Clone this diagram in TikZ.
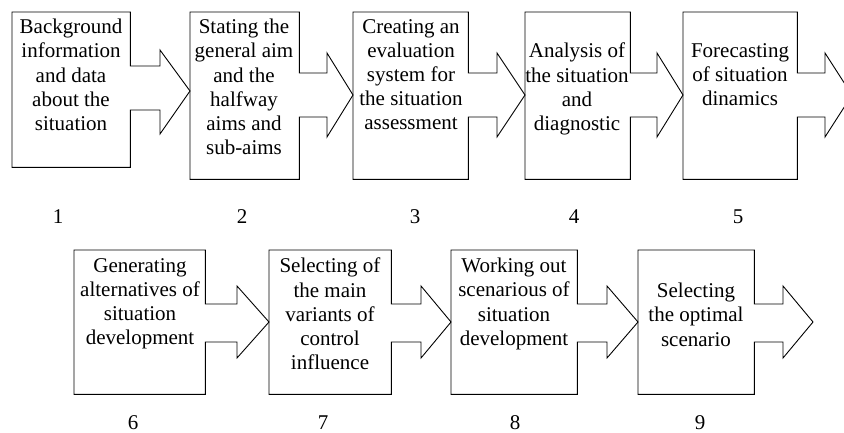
\documentclass[tikz,border=0pt]{standalone}
\usepackage{fontspec}
\setmainfont{Liberation Serif}
\tikzset{
  outline/.style={draw=black, line width=0.9pt, line join=miter},
  boxarea/.style={rectangle, draw=none, inner sep=0pt, anchor=north west},
  boxtext/.style={anchor=north, inner sep=0pt, align=center,
    font=\fontsize{21}{24.2}\selectfont, execute at begin node=\strut},
  numlabel/.style={anchor=base, inner sep=0pt, font=\fontsize{21}{24.2}\selectfont},
}
\begin{document}
\begin{tikzpicture}[x=1pt, y=-1pt]
\useasboundingbox (0,0) rectangle (844,433);
\clip (0,0) rectangle (844,433);
% box areas
\node[boxarea, minimum width=118pt, minimum height=155pt] (b1) at (12,12) {};
\node[boxarea, minimum width=109pt, minimum height=167pt] (b2) at (190,12) {};
\node[boxarea, minimum width=115pt, minimum height=167pt] (b3) at (353,12) {};
\node[boxarea, minimum width=105pt, minimum height=167pt] (b4) at (525,12) {};
\node[boxarea, minimum width=114pt, minimum height=167pt] (b5) at (683,12) {};
\coordinate (e5) at (852,95);
\node[boxarea, minimum width=131pt, minimum height=144pt] (b6) at (74,250) {};
\node[boxarea, minimum width=122pt, minimum height=144pt] (b7) at (269,250) {};
\node[boxarea, minimum width=126pt, minimum height=144pt] (b8) at (451,250) {};
\node[boxarea, minimum width=116pt, minimum height=144pt] (b9) at (638,250) {};
\coordinate (e9) at (813,322);
% outlines, row 1
\draw[outline] (b1.north west) -- (b1.north east) -- (b1.east |- 0,66) -- (160,66) -- (160,50)
  -- (b2.west |- 0,91) -- (160,134) -- (160,110) -- (b1.east |- 0,110) -- (b1.south east)
  -- (b1.south west) -- cycle;
\draw[outline] (b2.north west) -- (b2.north east) -- (b2.east |- 0,73) -- (327,73) -- (327,53)
  -- (b3.west |- 0,95) -- (327,137) -- (327,117) -- (b2.east |- 0,117) -- (b2.south east)
  -- (b2.south west) -- cycle;
\draw[outline] (b3.north west) -- (b3.north east) -- (b3.east |- 0,73) -- (497,73) -- (497,53)
  -- (b4.west |- 0,95) -- (497,137) -- (497,117) -- (b3.east |- 0,117) -- (b3.south east)
  -- (b3.south west) -- cycle;
\draw[outline] (b4.north west) -- (b4.north east) -- (b4.east |- 0,73) -- (657,73) -- (657,53)
  -- (b5.west |- 0,95) -- (657,137) -- (657,117) -- (b4.east |- 0,117) -- (b4.south east)
  -- (b4.south west) -- cycle;
\draw[outline] (b5.north west) -- (b5.north east) -- (b5.east |- 0,73) -- (825,73) -- (825,53)
  -- (e5) -- (825,137) -- (825,117) -- (b5.east |- 0,117) -- (b5.south east)
  -- (b5.south west) -- cycle;
% outlines, row 2
\draw[outline] (b6.north west) -- (b6.north east) -- (b6.east |- 0,304) -- (237,304) -- (237,286)
  -- (b7.west |- 0,322) -- (237,358) -- (237,342) -- (b6.east |- 0,342) -- (b6.south east)
  -- (b6.south west) -- cycle;
\draw[outline] (b7.north west) -- (b7.north east) -- (b7.east |- 0,304) -- (421,304) -- (421,286)
  -- (b8.west |- 0,322) -- (421,358) -- (421,342) -- (b7.east |- 0,342) -- (b7.south east)
  -- (b7.south west) -- cycle;
\draw[outline] (b8.north west) -- (b8.north east) -- (b8.east |- 0,304) -- (607,304) -- (607,286)
  -- (b9.west |- 0,322) -- (607,358) -- (607,342) -- (b8.east |- 0,342) -- (b8.south east)
  -- (b8.south west) -- cycle;
\draw[outline] (b9.north west) -- (b9.north east) -- (b9.east |- 0,304) -- (783,304) -- (783,286)
  -- (e9) -- (783,358) -- (783,342) -- (b9.east |- 0,342) -- (b9.south east)
  -- (b9.south west) -- cycle;
% texts
\node[boxtext] (t1) at (71,19) {Background\\information\\and data\\about the\\situation};
\node[boxtext] (t2) at (244,19) {Stating the\\general aim\\and the\\halfway\\aims and\\sub-aims};
\node[boxtext] (t3) at (411,19) {Creating an\\evaluation\\system for\\the situation\\assessment};
\node[boxtext] (t4) at (577,43) {Analysis of\\the situation\\and\\diagnostic};
\node[boxtext] (t5) at (740,43) {Forecasting\\of situation\\dinamics};
\node[boxtext] (t6) at (140,258) {Generating\\alternatives of\\situation\\development};
\node[boxtext] (t7) at (330,258) {Selecting of\\the main\\variants of\\control\\influence};
\node[boxtext] (t8) at (514,258) {Working out\\scenarious of\\situation\\development};
\node[boxtext] (t9) at (696,283) {Selecting\\the optimal\\scenario};
% numbers
\node[numlabel] (n1) at (58,223) {1};
\node[numlabel] (n2) at (242,223) {2};
\node[numlabel] (n3) at (415,223) {3};
\node[numlabel] (n4) at (574,223) {4};
\node[numlabel] (n5) at (738,223) {5};
\node[numlabel] (n6) at (133,429) {6};
\node[numlabel] (n7) at (323,429) {7};
\node[numlabel] (n8) at (515,429) {8};
\node[numlabel] (n9) at (700,429) {9};
\end{tikzpicture}
\end{document}
